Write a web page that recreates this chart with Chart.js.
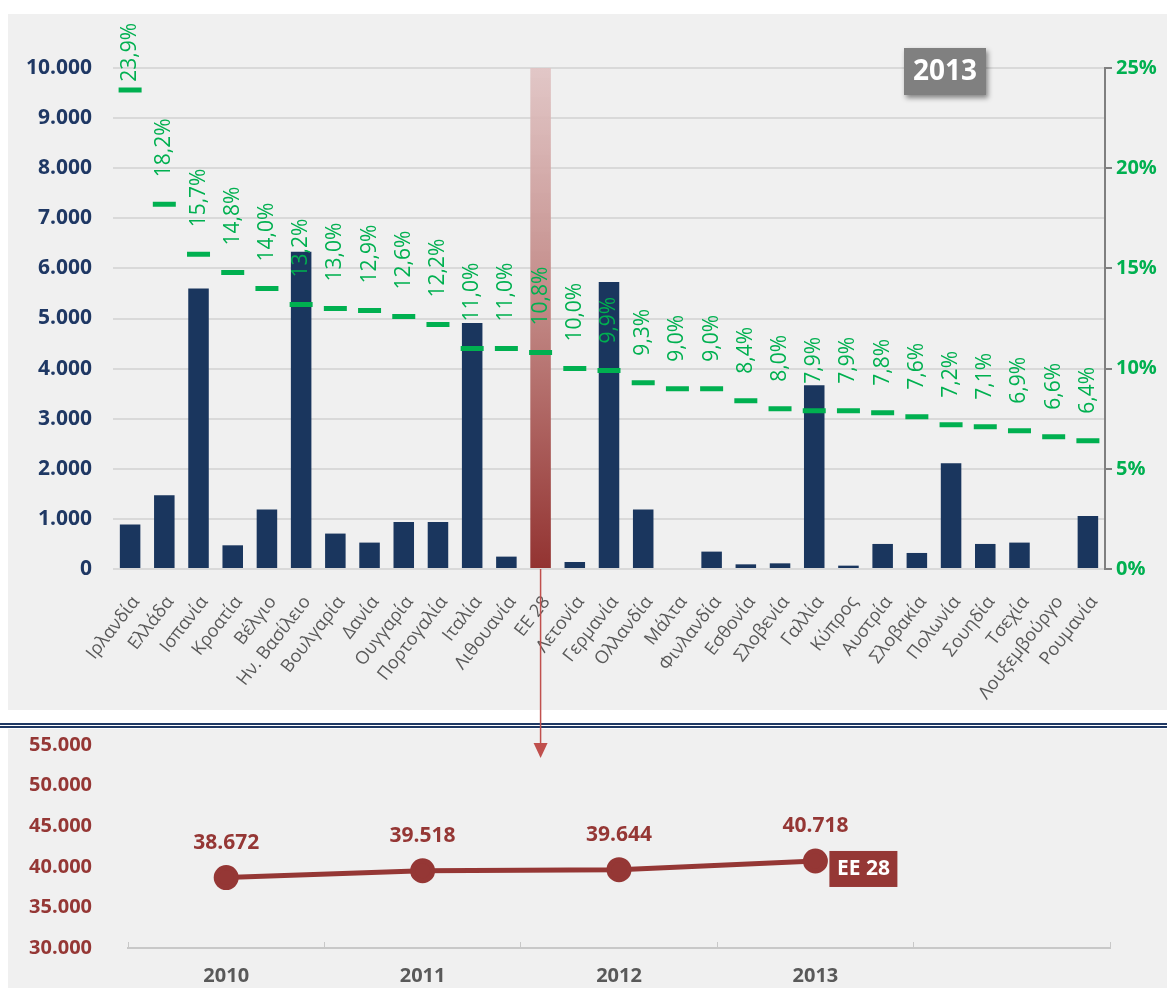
<!DOCTYPE html>
<html>
<head>
<meta charset="utf-8">
<script src="https://cdn.jsdelivr.net/npm/chart.js@4.4.1/dist/chart.umd.min.js"></script>
<style>
	body{margin:0;background:#fff;width:1167px;height:988px;position:relative;overflow:hidden;font-family:"Open Sans",sans-serif;}
	#panel-top{position:absolute;left:8px;top:14px;width:1159px;height:696px;background:#f0f0f0;}
	#panel-bottom{position:absolute;left:8px;top:729px;width:1159px;height:259px;background:#f0f0f0;}
	.rule{position:absolute;left:0;width:1167px;height:2px;background:#1f3864;}
	#wrap-bottom{position:absolute;left:8px;top:729px;width:1159px;height:259px;z-index:1;}
	#wrap-top{position:absolute;left:0;top:0;width:1167px;height:760px;z-index:2;}
</style>
</head>
<body>
<div id="panel-top"></div>
<div class="rule" style="top:723px"></div>
<div class="rule" style="top:726px"></div>
<div id="panel-bottom"></div>
<div id="wrap-bottom"><canvas id="chart-eu" width="1159" height="259"></canvas></div>
<div id="wrap-top"><canvas id="chart-countries" width="1167" height="760"></canvas></div>
<script>
// categories, top chart
var countries = ['Ιρλανδία', 'Ελλάδα', 'Ισπανία', 'Κροατία', 'Βέλγιο', 'Ην. Βασίλειο', 'Βουλγαρία', 'Δανία',
	'Ουγγαρία', 'Πορτογαλία', 'Ιταλία', 'Λιθουανία', 'ΕΕ 28', 'Λετονία', 'Γερμανία', 'Ολλανδία', 'Μάλτα',
	'Φινλανδία', 'Εσθονία', 'Σλοβενία', 'Γαλλία', 'Κύπρος', 'Αυστρία', 'Σλοβακία', 'Πολωνία', 'Σουηδία',
	'Τσεχία', 'Λουξεμβούργο', 'Ρουμανία'];
var barValues = [887, 1470, 5600, 473, 1190, 6330, 707, 527, 940, 940, 4910, 247, null, 140, 5730, 1190, null,
	347, 93, 113, 3670, 67, 500, 320, 2110, 500, 527, null, 1060];
var pctValues = [23.9, 18.2, 15.7, 14.8, 14.0, 13.2, 13.0, 12.9, 12.6, 12.2, 11.0, 11.0, 10.8, 10.0, 9.9, 9.3,
	9.0, 9.0, 8.4, 8.0, 7.9, 7.9, 7.8, 7.6, 7.2, 7.1, 6.9, 6.6, 6.4];
var leftMax = 10000, leftStep = 1000;
var rightMax = 25, rightStep = 5;
var highlightName = 'ΕΕ 28';
var yearLabel = '2013';

// bottom chart
var years = ['2010', '2011', '2012', '2013', ''];
var euValues = [38672, 39518, 39644, 40718, null];
var euMin = 30000, euMax = 55000, euStep = 5000;

var navy = '#1a365e', green = '#00b050', red = '#953735', grey = '#595959';

function thousands(v){
	return String(v).replace(/\B(?=(\d{3})+(?!\d))/g, '.');
}

var highlightData = countries.map(function(c){ return c === highlightName ? leftMax : null; });

var pctLabels = {
	id: 'pctLabels',
	afterDatasetsDraw: function(chart){
		var ctx = chart.ctx, meta = chart.getDatasetMeta(0);
		ctx.save();
		ctx.font = '21px "Open Sans"';
		ctx.fillStyle = green;
		ctx.textBaseline = 'middle';
		ctx.textAlign = 'left';
		meta.data.forEach(function(pt, i){
			var txt = pctValues[i].toFixed(1).replace('.', ',') + '%';
			var w = ctx.measureText(txt).width;
			var y0 = Math.max(pt.y - 27, 23 + w);
			ctx.save();
			ctx.translate(pt.x, y0);
			ctx.rotate(-Math.PI / 2);
			ctx.fillText(txt, 0, 0);
			ctx.restore();
		});
		ctx.restore();
	}
};

var extras = {
	id: 'extras',
	afterDraw: function(chart){
		var ctx = chart.ctx, area = chart.chartArea;
		var x = chart.scales.x.getPixelForValue(countries.indexOf(highlightName));
		ctx.save();
		// arrow down to the EU chart
		ctx.strokeStyle = '#c0504d';
		ctx.fillStyle = '#c0504d';
		ctx.lineWidth = 1.5;
		ctx.beginPath();
		ctx.moveTo(x, area.bottom);
		ctx.lineTo(x, 746);
		ctx.stroke();
		ctx.beginPath();
		ctx.moveTo(x - 7, 743);
		ctx.lineTo(x + 7, 743);
		ctx.lineTo(x, 758);
		ctx.closePath();
		ctx.fill();
		// year box
		var bx = area.right - 201, by = area.top - 20;
		ctx.shadowColor = 'rgba(0,0,0,0.45)';
		ctx.shadowBlur = 5;
		ctx.shadowOffsetX = 2;
		ctx.shadowOffsetY = 3;
		ctx.fillStyle = '#808080';
		ctx.fillRect(bx, by, 82, 47);
		ctx.shadowColor = 'transparent';
		ctx.fillStyle = '#fff';
		ctx.font = 'bold 28px "Open Sans"';
		ctx.textAlign = 'center';
		ctx.textBaseline = 'middle';
		ctx.fillText(yearLabel, bx + 41, by + 24);
		ctx.restore();
	}
};

new Chart(document.getElementById('chart-countries'), {
	type: 'bar',
	data: {
		labels: countries,
		datasets: [{
			type: 'line',
			data: pctValues,
			yAxisID: 'y1',
			showLine: false,
			pointStyle: 'line',
			pointRadius: 11.5,
			pointHoverRadius: 11.5,
			pointBorderWidth: 5,
			borderColor: green,
			backgroundColor: green,
			order: 0
		}, {
			data: barValues,
			backgroundColor: navy,
			barPercentage: 0.6,
			categoryPercentage: 1,
			grouped: false,
			order: 1
		}, {
			data: highlightData,
			backgroundColor: function(c){
				var a = c.chart.chartArea;
				if(!a) return red;
				var g = c.chart.ctx.createLinearGradient(0, a.top, 0, a.bottom);
				g.addColorStop(0, 'rgba(224,196,196,0.95)');
				g.addColorStop(0.5, '#c08582');
				g.addColorStop(1, '#933331');
				return g;
			},
			barPercentage: 0.6,
			categoryPercentage: 1,
			grouped: false,
			order: 2
		}]
	},
	options: {
		responsive: false,
		animation: false,
		layout: {padding: {top: 68}},
		plugins: {legend: {display: false}, tooltip: {enabled: false}},
		scales: {
			x: {
				grid: {display: false},
				border: {display: false},
				ticks: {
					autoSkip: false, minRotation: 52, maxRotation: 52, padding: 15, labelOffset: 6,
					color: grey, font: {family: 'Open Sans', size: 18}
				},
				afterFit: function(s){ s.height = 191; }
			},
			y: {
				min: 0, max: leftMax,
				ticks: {
					stepSize: leftStep, padding: 21, color: '#1f3864',
					font: {family: 'Open Sans', size: 21, weight: 'bold'},
					callback: function(v){ return thousands(v); }
				},
				grid: {color: '#d9d9d9', lineWidth: 2, drawTicks: false},
				border: {display: false},
				afterFit: function(s){ s.width = 113; }
			},
			y1: {
				position: 'right',
				min: 0, max: rightMax,
				ticks: {
					stepSize: rightStep, padding: 4, color: green,
					font: {family: 'Open Sans', size: 20, weight: 'bold'},
					callback: function(v){ return v + '%'; }
				},
				grid: {drawOnChartArea: false, color: '#808080', lineWidth: 2, tickLength: 7},
				border: {color: '#808080', width: 2},
				afterFit: function(s){ s.width = 62; }
			}
		}
	},
	plugins: [pctLabels, extras]
});

var euLabels = {
	id: 'euLabels',
	afterDatasetsDraw: function(chart){
		var ctx = chart.ctx, meta = chart.getDatasetMeta(0);
		ctx.save();
		ctx.font = 'bold 21px "Open Sans"';
		ctx.textAlign = 'center';
		ctx.textBaseline = 'middle';
		var last = null;
		meta.data.forEach(function(pt, i){
			if(euValues[i] === null) return;
			ctx.fillStyle = red;
			ctx.fillText(thousands(euValues[i]), pt.x, pt.y - 35);
			last = pt;
		});
		if(last){
			ctx.fillStyle = red;
			ctx.fillRect(last.x + 14, last.y - 10, 68, 36);
			ctx.fillStyle = '#fff';
			ctx.fillText(highlightName, last.x + 48, last.y + 8);
		}
		ctx.restore();
	}
};

new Chart(document.getElementById('chart-eu'), {
	type: 'line',
	data: {
		labels: years,
		datasets: [{
			data: euValues,
			borderColor: red,
			backgroundColor: red,
			borderWidth: 5,
			pointRadius: 10,
			pointHoverRadius: 10,
			pointBackgroundColor: red
		}]
	},
	options: {
		responsive: false,
		animation: false,
		layout: {padding: {top: 16, right: 57}},
		plugins: {legend: {display: false}, tooltip: {enabled: false}},
		scales: {
			x: {
				offset: true,
				grid: {display: true, drawOnChartArea: false, offset: true, color: '#c8c8c8', tickLength: -6},
				border: {color: '#c8c8c8', width: 2},
				ticks: {padding: 22, color: grey, font: {family: 'Open Sans', size: 20, weight: 'bold'}},
				afterFit: function(s){ s.height = 40; s.paddingLeft = 0; s.paddingRight = 0; }
			},
			y: {
				min: euMin, max: euMax,
				ticks: {
					stepSize: euStep, padding: 28, color: red,
					font: {family: 'Open Sans', size: 20, weight: 'bold'},
					callback: function(v){ return thousands(v); }
				},
				grid: {display: false},
				border: {display: false},
				afterFit: function(s){ s.width = 120; s.paddingTop = 0; s.paddingBottom = 0; }
			}
		}
	},
	plugins: [euLabels]
});
</script>
</body>
</html>
